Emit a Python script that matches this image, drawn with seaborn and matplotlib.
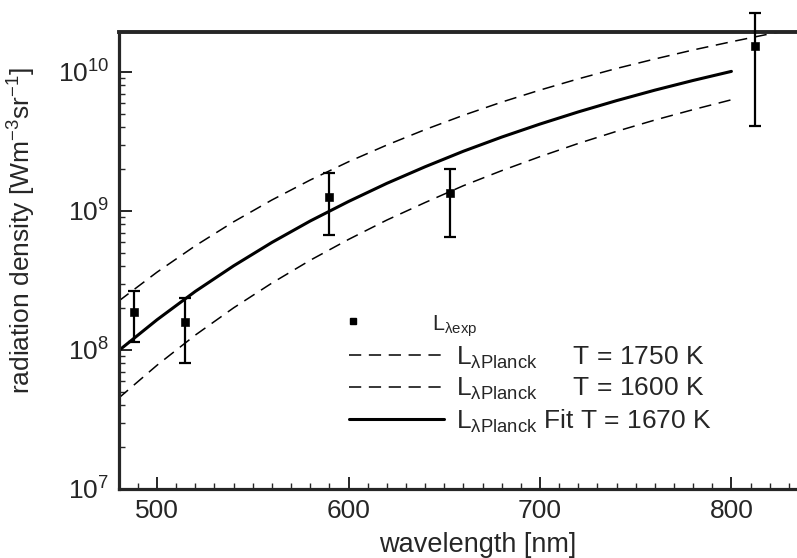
import numpy as np
import pandas as pd
import matplotlib
matplotlib.use("Agg")
import matplotlib.pyplot as plt
import matplotlib.ticker as mticker
from matplotlib.lines import Line2D
from matplotlib.legend_handler import HandlerBase
import seaborn as sns

# ======================================
# DATA
# ======================================

wavelength = [480, 500, 520, 540, 560, 580, 600, 620, 640, 660,
              680, 700, 720, 740, 760, 780, 800]

planck_1670 = [9.9e7, 1.65e8, 2.64e8, 4.03e8, 5.94e8, 8.47e8, 1.17e9, 1.58e9,
               2.08e9, 2.69e9, 3.40e9, 4.22e9, 5.16e9, 6.22e9, 7.40e9, 8.69e9, 1.01e10]

planck_1600 = [4.51e7, 7.77e7, 1.28e8, 2.01e8, 3.03e8, 4.42e8, 6.24e8, 8.60e8,
               1.15e9, 1.52e9, 1.95e9, 2.46e9, 3.06e9, 3.74e9, 4.51e9, 5.36e9, 6.31e9]

wavelength_1750 = wavelength + [820, 830]
planck_1750 = [2.25e8, 3.63e8, 5.62e8, 8.36e8, 1.20e9, 1.67e9, 2.26e9, 2.98e9,
               3.85e9, 4.88e9, 6.07e9, 7.41e9, 8.92e9, 1.06e10, 1.24e10, 1.44e10,
               1.65e10, 1.88e10, 1.99e10]

exp_wavelength = [488, 514.5, 590, 653, 812.5]
exp_value = [1.87e8, 1.59e8, 1.26e9, 1.34e9, 1.54e10]
exp_low = [1.14e8, 8.1e7, 6.7e8, 6.5e8, 4.1e9]
exp_high = [2.66e8, 2.37e8, 1.87e9, 2.0e9, 2.66e10]

# ======================================
# STYLE
# ======================================

sns.set_style("ticks")
plt.rcParams["font.family"] = ["Liberation Sans", "DejaVu Sans"]
plt.rcParams["mathtext.fontset"] = "custom"
plt.rcParams["mathtext.rm"] = "Liberation Sans"
plt.rcParams["mathtext.it"] = "Liberation Sans"
plt.rcParams["mathtext.default"] = "regular"

fig = plt.figure(figsize=(7.97, 5.58), dpi=100)
ax = fig.add_axes([0.149, 0.1237, 0.86, 0.819])

df_1750 = pd.DataFrame({"wl": wavelength_1750, "L": planck_1750})
df_1600 = pd.DataFrame({"wl": wavelength, "L": planck_1600})
df_1670 = pd.DataFrame({"wl": wavelength, "L": planck_1670})

sns.lineplot(data=df_1750, x="wl", y="L", ax=ax, color="black", lw=1.1,
             linestyle=(0, (8, 5)))
sns.lineplot(data=df_1600, x="wl", y="L", ax=ax, color="black", lw=1.1,
             linestyle=(0, (8, 5)))
sns.lineplot(data=df_1670, x="wl", y="L", ax=ax, color="black", lw=2.2)

yerr = [np.array(exp_value) - np.array(exp_low),
        np.array(exp_high) - np.array(exp_value)]
ax.errorbar(exp_wavelength, exp_value, yerr=yerr, fmt="none", ecolor="black",
            elinewidth=1.6, capsize=4.5, capthick=1.6, clip_on=False, zorder=3)
sns.scatterplot(x=exp_wavelength, y=exp_value, ax=ax, marker="s", s=32,
                color="black", edgecolor="black", zorder=4, legend=False)

# ======================================
# AXES
# ======================================

ax.set_yscale("log")
ax.set_xlim(480, 838)
ax.set_ylim(1e7, 1.94e10)

ax.xaxis.set_major_locator(mticker.MultipleLocator(100))
ax.xaxis.set_minor_locator(mticker.MultipleLocator(10))
ax.yaxis.set_major_locator(mticker.LogLocator(base=10, numticks=10))
ax.yaxis.set_minor_locator(mticker.LogLocator(base=10, subs=np.arange(2, 10), numticks=20))
ax.yaxis.set_major_formatter(mticker.LogFormatterMathtext())
ax.yaxis.set_minor_formatter(mticker.NullFormatter())

ax.tick_params(which="major", direction="in", length=9, width=1.4, labelsize=19, pad=7)
ax.tick_params(which="minor", direction="in", length=4.5, width=1.0)
ax.tick_params(axis="x", top=False)
ax.tick_params(axis="y", right=False)

for side in ["left", "bottom"]:
    ax.spines[side].set_linewidth(2.3)
ax.spines["top"].set_linewidth(2.8)
ax.spines["right"].set_visible(False)

ax.set_xlabel("wavelength [nm]", fontsize=19.5)
ax.set_ylabel(r"radiation density [Wm$^{-3}$sr$^{-1}$]", fontsize=19)
ax.xaxis.set_label_coords(0.524, -0.095)
ax.yaxis.set_label_coords(-0.118, 0.565)

# ======================================
# LEGEND
# ======================================


class LeftMarker(HandlerBase):
    # single square marker at the left end of the handle, like the original
    def create_artists(self, legend, orig_handle, xdescent, ydescent,
                       width, height, fontsize, trans):
        mk = Line2D([-xdescent + 3], [(height - ydescent) / 2], marker="s",
                    ls="none", color="black", markersize=4.5, transform=trans)
        return [mk]


h_exp = Line2D([], [], marker="s", ls="none", color="black", markersize=4.5)
h_1750 = Line2D([], [], color="black", lw=1.1, linestyle=(0, (8, 5)))
h_1600 = Line2D([], [], color="black", lw=1.1, linestyle=(0, (8, 5)))
h_1670 = Line2D([], [], color="black", lw=2.2)

labels = [r"$L_{\lambda exp}$",
          r"$L_{\lambda Planck}$     T = 1750 K",
          r"$L_{\lambda Planck}$     T = 1600 K",
          r"$L_{\lambda Planck}$ Fit T = 1670 K"]

leg = ax.legend([h_exp, h_1750, h_1600, h_1670], labels,
                handler_map={h_exp: LeftMarker()},
                loc="upper left", bbox_to_anchor=(0.32, 0.41), frameon=False,
                fontsize=19, handlelength=3.6, handletextpad=0.45,
                labelspacing=0.2, borderaxespad=0)
leg.get_texts()[0].set_fontsize(15.5)

# the experimental label sits a bit left of the others in the original
try:
    first_row = leg._legend_handle_box.get_children()[0].get_children()[0]
    first_row.sep = -8.5
except (AttributeError, IndexError):
    pass

fig.savefig("out.png", dpi=100)
